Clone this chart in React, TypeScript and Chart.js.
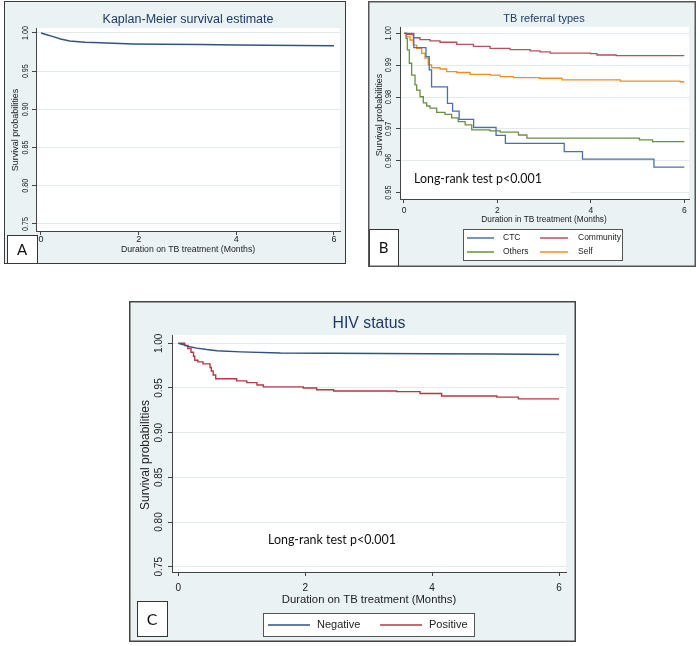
import { useEffect, useRef } from "react";
import { Chart, registerables } from "chart.js";

Chart.register(...registerables);

// ---------- values ----------
const monthTicks = [0, 2, 4, 6];
const overallYTicks = [0.75, 0.8, 0.85, 0.9, 0.95, 1.0];
const referralYTicks = [0.95, 0.96, 0.97, 0.98, 0.99, 1.0];
const hivYTicks = [0.75, 0.8, 0.85, 0.9, 0.95, 1.0];

// Panel A: overall Kaplan-Meier estimate
const overallMonths = [0, 0.1, 0.25, 0.4, 0.59, 0.9, 1.21, 1.89, 2.5, 3.26, 4.0, 4.62, 5.3, 6.0];
const overallSurv = [1.0, 0.998, 0.9952, 0.992, 0.9895, 0.988, 0.9871, 0.9857, 0.9852, 0.9848, 0.9843, 0.9838, 0.9835, 0.9833];

// Panel B: referral types
const ctcMonths = [0, 0.21, 0.47, 0.54, 0.59, 0.93, 1.04, 1.18, 1.49, 1.97, 2.17, 3.43, 3.82, 5.35, 6.0];
const ctcSurv = [1.0, 0.9955, 0.9927, 0.9885, 0.9832, 0.978, 0.9756, 0.973, 0.9705, 0.968, 0.9655, 0.9629, 0.9605, 0.958, 0.958];

const communityMonths = [0, 0.057, 0.2, 0.343, 0.557, 0.771, 1.129, 1.486, 1.843, 2.27, 2.7, 2.91, 3.13, 3.99, 4.13, 4.54, 6.0];
const communitySurv = [1.0, 0.9997, 0.9986, 0.998, 0.9976, 0.9972, 0.9965, 0.9959, 0.9953, 0.9949, 0.9945, 0.9942, 0.9938, 0.9936, 0.9932, 0.993, 0.993];

const othersMonths = [0, 0.043, 0.071, 0.114, 0.164, 0.236, 0.271, 0.343, 0.414, 0.486, 0.557, 0.7, 0.879, 1.02, 1.16, 1.31, 1.45, 1.84, 2.06, 2.45, 2.63, 5.04, 5.32, 6.0];
const othersSurv = [1.0, 0.9984, 0.9948, 0.9906, 0.9869, 0.9838, 0.9822, 0.9801, 0.9782, 0.9772, 0.9765, 0.9752, 0.9746, 0.9735, 0.9723, 0.9713, 0.9697, 0.9694, 0.969, 0.9681, 0.9671, 0.9666, 0.966, 0.966];

const selfMonths = [0, 0.057, 0.129, 0.2, 0.271, 0.379, 0.45, 0.52, 0.59, 0.771, 0.914, 1.129, 1.414, 1.843, 2.06, 2.34, 2.9, 3.38, 4.63, 5.91, 6.0];
const selfSurv = [1.0, 0.9989, 0.9979, 0.9963, 0.9953, 0.9937, 0.9922, 0.9901, 0.9892, 0.9888, 0.988, 0.9877, 0.9871, 0.9869, 0.9864, 0.9861, 0.9859, 0.9854, 0.985, 0.9848, 0.9848];

// Panel C: HIV status
const negativeMonths = [0, 0.1, 0.18, 0.29, 0.45, 0.61, 0.98, 1.61, 2.39, 3.97, 5.0, 6.0];
const negativeSurv = [1.0, 0.998, 0.9962, 0.9946, 0.993, 0.9917, 0.9904, 0.9891, 0.9888, 0.9883, 0.988, 0.9875];

const positiveMonths = [0, 0.1, 0.15, 0.2, 0.24, 0.26, 0.31, 0.39, 0.5, 0.52, 0.55, 0.59, 0.92, 1.08, 1.24, 1.34, 1.97, 2.18, 2.45, 3.44, 3.81, 4.15, 5.02, 5.36, 6.0];
const positiveSurv = [1.0, 0.9975, 0.994, 0.99, 0.9855, 0.981, 0.9792, 0.977, 0.973, 0.969, 0.9646, 0.9604, 0.958, 0.956, 0.9533, 0.9512, 0.95, 0.948, 0.9467, 0.9459, 0.9439, 0.9411, 0.9398, 0.9378, 0.9378];

const NOTE = "Long-rank test p<0.001";

// ---------- styling ----------
const SANS = '"Liberation Sans", Arial, sans-serif';
const NOTE_FONT = 'Lato, "Open Sans", sans-serif';
const BG = "#eaf2f3";
const GRID = "#e2eaed";
const AXIS = "#444";
const TITLE_COLOR = "#1e3a66";
const TEXT = "#222";

type Series = { label: string; color: string; months: number[]; surv: number[]; stepped: false | "before" };

type LegendItem = { series: number; lx1: number; lx2: number; tx: number; y: number };

type PanelCfg = {
  box: { x: number; y: number; w: number; h: number };
  plot: { l: number; t: number; r: number; b: number };
  xRange: [number, number];
  yRange: [number, number];
  yTicks: number[];
  series: Series[];
  lineWidth: number;
  title: { text: string; x: number; y: number; size: number };
  yTitle: { text: string; x: number; y: number; size: number };
  yTickX: number;
  yTickSize: number;
  yTickSquash: number;
  xTickY: number;
  xTickSize: number;
  xTitle: { text: string; x: number; y: number; size: number };
  letter: { text: string; l: number; t: number; r: number; b: number; size: number };
  legend?: { l: number; t: number; r: number; b: number; size: number; items: LegendItem[] };
  note?: { x: number; y: number; width: number; bg?: { l: number; t: number; r: number; b: number } };
  borderColor: string;
  borderWidth: number;
};

const panels: PanelCfg[] = [
  {
    box: { x: 4, y: 1, w: 342, h: 263 },
    plot: { l: 36, t: 28, r: 340, b: 231 },
    xRange: [-0.102, 6.123],
    yRange: [0.7408, 1.0065],
    yTicks: overallYTicks,
    series: [{ label: "All", color: "#33557d", months: overallMonths, surv: overallSurv, stepped: false }],
    lineWidth: 1.5,
    title: { text: "Kaplan-Meier survival estimate", x: 188, y: 20, size: 12.5 },
    yTitle: { text: "Survival probabilities", x: 16, y: 130, size: 9 },
    yTickX: 25,
    yTickSize: 9.5,
    yTickSquash: 0.75,
    xTickY: 240,
    xTickSize: 9,
    xTitle: { text: "Duration on TB treatment (Months)", x: 188, y: 250, size: 8.7 },
    letter: { text: "A", l: 7, t: 235, r: 37, b: 263, size: 15 },
    borderColor: "#3a3a3a",
    borderWidth: 1,
  },
  {
    box: { x: 368, y: 1, w: 328, h: 266 },
    plot: { l: 400, t: 27, r: 689, b: 199 },
    xRange: [-0.0856, 6.1],
    yRange: [0.94802, 1.00198],
    yTicks: referralYTicks,
    series: [
      { label: "CTC", color: "#4a70a5", months: ctcMonths, surv: ctcSurv, stepped: "before" },
      { label: "Community", color: "#b4525b", months: communityMonths, surv: communitySurv, stepped: "before" },
      { label: "Others", color: "#6a9140", months: othersMonths, surv: othersSurv, stepped: "before" },
      { label: "Self", color: "#f28d22", months: selfMonths, surv: selfSurv, stepped: "before" },
    ],
    lineWidth: 1.3,
    title: { text: "TB referral types", x: 544, y: 19, size: 11 },
    yTitle: { text: "Survival probabilities", x: 380, y: 115, size: 9 },
    yTickX: 389,
    yTickSize: 9,
    yTickSquash: 0.82,
    xTickY: 211,
    xTickSize: 8.5,
    xTitle: { text: "Duration in TB treatment (Months)", x: 544, y: 220, size: 8.3 },
    letter: { text: "B", l: 369, t: 229, r: 398, b: 266, size: 15 },
    legend: {
      l: 463, t: 229, r: 622, b: 260, size: 8.5,
      items: [
        { series: 0, lx1: 467, lx2: 494, tx: 503, y: 238 },
        { series: 1, lx1: 540, lx2: 568, tx: 578, y: 238 },
        { series: 2, lx1: 467, lx2: 494, tx: 503, y: 252 },
        { series: 3, lx1: 540, lx2: 568, tx: 578, y: 252 },
      ],
    },
    note: { x: 414, y: 179, width: 128, bg: { l: 401, t: 170, r: 570, b: 197 } },
    borderColor: "#555",
    borderWidth: 1.5,
  },
  {
    box: { x: 129, y: 301, w: 447, h: 341 },
    plot: { l: 172, t: 335, r: 566, b: 572 },
    xRange: [-0.099, 6.11],
    yRange: [0.7441, 1.0093],
    yTicks: hivYTicks,
    series: [
      { label: "Negative", color: "#2f5283", months: negativeMonths, surv: negativeSurv, stepped: false },
      { label: "Positive", color: "#b03a44", months: positiveMonths, surv: positiveSurv, stepped: "before" },
    ],
    lineWidth: 1.4,
    title: { text: "HIV status", x: 369, y: 324, size: 15.8 },
    yTitle: { text: "Survival probabilities", x: 146, y: 455, size: 12 },
    yTickX: 159,
    yTickSize: 10,
    yTickSquash: 1,
    xTickY: 588,
    xTickSize: 10,
    xTitle: { text: "Duration on TB treatment (Months)", x: 369, y: 600, size: 11.3 },
    letter: { text: "C", l: 137, t: 601, r: 167, b: 636, size: 16 },
    legend: {
      l: 263, t: 613, r: 474, b: 636, size: 11,
      items: [
        { series: 0, lx1: 268, lx2: 310, tx: 317, y: 625 },
        { series: 1, lx1: 380, lx2: 422, tx: 429, y: 625 },
      ],
    },
    note: { x: 268, y: 540, width: 128 },
    borderColor: "#444",
    borderWidth: 1.5,
  },
];

// ---------- drawing helpers ----------
type TextOpts = { align?: CanvasTextAlign; color?: string; family?: string; rot?: number; squash?: number };

function drawText(ctx: CanvasRenderingContext2D, s: string, x: number, y: number, size: number, o: TextOpts = {}) {
  ctx.save();
  ctx.translate(x, y);
  if (o.rot) ctx.rotate(o.rot);
  if (o.squash && o.squash !== 1) ctx.scale(o.squash, 1);
  ctx.font = `${size}px ${o.family || SANS}`;
  ctx.fillStyle = o.color || TEXT;
  ctx.textAlign = o.align || "center";
  ctx.textBaseline = "middle";
  ctx.fillText(s, 0, 0);
  ctx.restore();
}

function makeDecor(cfg: PanelCfg) {
  const ox = cfg.box.x;
  const oy = cfg.box.y;
  return {
    id: "panelDecor",
    beforeDraw(chart: Chart) {
      const { ctx, chartArea } = chart;
      ctx.save();
      ctx.fillStyle = BG;
      ctx.fillRect(0, 0, chart.width, chart.height);
      ctx.fillStyle = "#ffffff";
      ctx.fillRect(chartArea.left, chartArea.top, chartArea.right - chartArea.left, chartArea.bottom - chartArea.top);
      ctx.restore();
    },
    afterDraw(chart: Chart) {
      const ctx = chart.ctx;
      const xs = chart.scales.x;
      const ys = chart.scales.y;

      // note text with its white backing
      if (cfg.note) {
        const n = cfg.note;
        if (n.bg) {
          ctx.fillStyle = "#ffffff";
          ctx.fillRect(n.bg.l - ox, n.bg.t - oy, n.bg.r - n.bg.l, n.bg.b - n.bg.t);
        }
        ctx.font = `20px ${NOTE_FONT}`;
        const w = ctx.measureText(NOTE).width;
        const size = (20 * n.width) / w;
        drawText(ctx, NOTE, n.x - ox, n.y - oy, size, { align: "left", family: NOTE_FONT, color: "#111" });
      }

      // tick labels
      for (const v of cfg.yTicks) {
        const py = ys.getPixelForValue(v);
        drawText(ctx, v.toFixed(2), cfg.yTickX - ox, py, cfg.yTickSize, {
          rot: -Math.PI / 2,
          squash: cfg.yTickSquash,
          color: TEXT,
        });
      }
      for (const v of monthTicks) {
        const px = xs.getPixelForValue(v);
        drawText(ctx, String(v), px, cfg.xTickY - oy, cfg.xTickSize, { color: TEXT });
      }

      // titles
      drawText(ctx, cfg.title.text, cfg.title.x - ox, cfg.title.y - oy, cfg.title.size, { color: TITLE_COLOR });
      drawText(ctx, cfg.xTitle.text, cfg.xTitle.x - ox, cfg.xTitle.y - oy, cfg.xTitle.size);
      drawText(ctx, cfg.yTitle.text, cfg.yTitle.x - ox, cfg.yTitle.y - oy, cfg.yTitle.size, { rot: -Math.PI / 2 });

      // legend
      if (cfg.legend) {
        const L = cfg.legend;
        ctx.save();
        ctx.fillStyle = "#ffffff";
        ctx.fillRect(L.l - ox, L.t - oy, L.r - L.l, L.b - L.t);
        ctx.strokeStyle = "#555";
        ctx.lineWidth = 1;
        ctx.strokeRect(L.l - ox + 0.5, L.t - oy + 0.5, L.r - L.l, L.b - L.t);
        for (const it of L.items) {
          const s = cfg.series[it.series];
          ctx.strokeStyle = s.color;
          ctx.lineWidth = 1.5;
          ctx.beginPath();
          ctx.moveTo(it.lx1 - ox, it.y - oy);
          ctx.lineTo(it.lx2 - ox, it.y - oy);
          ctx.stroke();
          drawText(ctx, s.label, it.tx - ox, it.y - oy, L.size, { align: "left" });
        }
        ctx.restore();
      }

      // panel letter
      const Lt = cfg.letter;
      ctx.save();
      ctx.fillStyle = "#ffffff";
      ctx.fillRect(Lt.l - ox, Lt.t - oy, Lt.r - Lt.l, Lt.b - Lt.t);
      ctx.strokeStyle = "#333";
      ctx.lineWidth = 1;
      ctx.strokeRect(Lt.l - ox + 0.5, Lt.t - oy + 0.5, Lt.r - Lt.l, Lt.b - Lt.t);
      ctx.restore();
      drawText(ctx, Lt.text, (Lt.l + Lt.r) / 2 - ox, (Lt.t + Lt.b) / 2 - oy + 1, Lt.size, {
        family: 'Lato, "Liberation Sans", sans-serif',
        color: "#111",
      });

      // outer frame
      ctx.save();
      ctx.strokeStyle = cfg.borderColor;
      ctx.lineWidth = cfg.borderWidth;
      const hw = cfg.borderWidth / 2;
      ctx.strokeRect(hw, hw, chart.width - cfg.borderWidth, chart.height - cfg.borderWidth);
      ctx.restore();
    },
  };
}

function Panel({ cfg }: { cfg: PanelCfg }) {
  const ref = useRef<HTMLCanvasElement | null>(null);

  useEffect(() => {
    const canvas = ref.current;
    if (!canvas) return;
    const { box, plot } = cfg;
    const chart = new Chart(canvas, {
      type: "line",
      data: {
        datasets: cfg.series.map((s) => ({
          label: s.label,
          data: s.months.map((m, i) => ({ x: m, y: s.surv[i] })),
          borderColor: s.color,
          backgroundColor: s.color,
          borderWidth: cfg.lineWidth,
          pointRadius: 0,
          fill: false,
          tension: 0,
          stepped: s.stepped,
        })),
      },
      options: {
        animation: false,
        responsive: false,
        devicePixelRatio: 1,
        events: [],
        layout: {
          padding: { top: plot.t - box.y, right: box.x + box.w - plot.r, left: 0, bottom: 0 },
        },
        plugins: {
          legend: { display: false },
          title: { display: false },
          tooltip: { enabled: false },
        },
        scales: {
          x: {
            type: "linear",
            min: cfg.xRange[0],
            max: cfg.xRange[1],
            afterBuildTicks: (s: any) => {
              s.ticks = monthTicks.map((v) => ({ value: v }));
            },
            afterFit: (s: any) => {
              s.height = box.y + box.h - plot.b;
            },
            ticks: { display: false },
            grid: { drawOnChartArea: false, drawTicks: true, tickLength: 4, tickColor: AXIS, tickWidth: 1 },
            border: { display: true, color: AXIS, width: 1 },
          },
          y: {
            type: "linear",
            min: cfg.yRange[0],
            max: cfg.yRange[1],
            afterBuildTicks: (s: any) => {
              s.ticks = cfg.yTicks.map((v) => ({ value: v }));
            },
            afterFit: (s: any) => {
              s.width = plot.l - box.x;
            },
            ticks: { display: false },
            grid: { color: GRID, lineWidth: 1, drawTicks: true, tickLength: 4, tickColor: AXIS, tickWidth: 1 },
            border: { display: true, color: AXIS, width: 1 },
          },
        },
      } as any,
      plugins: [makeDecor(cfg)],
    });
    return () => chart.destroy();
  }, [cfg]);

  return (
    <canvas
      ref={ref}
      width={cfg.box.w}
      height={cfg.box.h}
      style={{ position: "absolute", left: cfg.box.x, top: cfg.box.y, width: cfg.box.w, height: cfg.box.h }}
    />
  );
}

export default function App() {
  return (
    <div style={{ position: "fixed", left: 0, top: 0, width: 700, height: 646, background: "#ffffff", overflow: "hidden" }}>
      {panels.map((p, i) => (
        <Panel key={i} cfg={p} />
      ))}
    </div>
  );
}
